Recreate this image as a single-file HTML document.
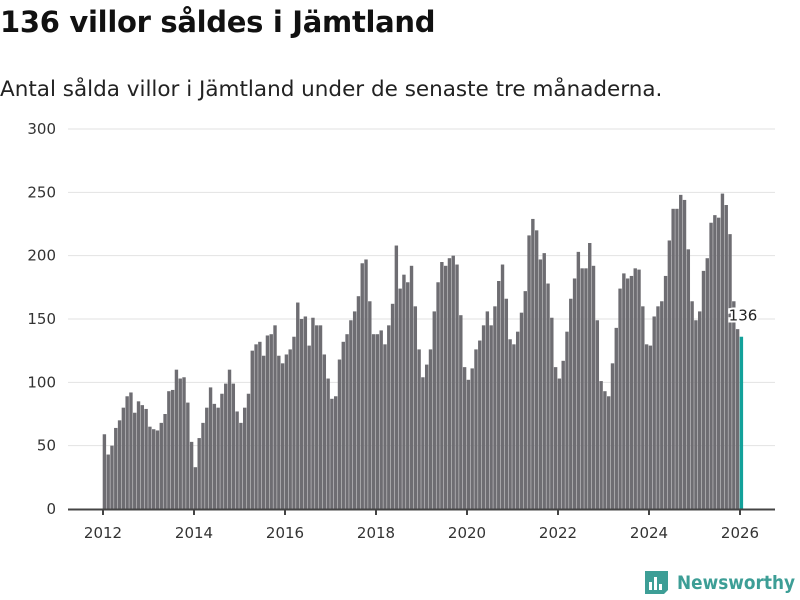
<!DOCTYPE html>
<html><head><meta charset="utf-8"><style>
body{margin:0;background:#fff;font-family:"Liberation Sans","DejaVu Sans",sans-serif;}
#wrap{position:relative;width:800px;height:600px;overflow:hidden}
h1{position:absolute;left:0;top:5px;margin:0;font-size:29px;font-weight:bold;color:#111;font-family:"DejaVu Sans","Liberation Sans",sans-serif;letter-spacing:-0.3px}
p.sub{position:absolute;left:0;top:77px;margin:0;font-size:21.5px;color:#222;font-family:"DejaVu Sans","Liberation Sans",sans-serif}
svg text{font-family:"DejaVu Sans","Liberation Sans",sans-serif}
</style></head><body>
<div id="wrap">
<h1>136 villor såldes i Jämtland</h1>
<p class="sub">Antal sålda villor i Jämtland under de senaste tre månaderna.</p>
<svg id="chart" width="800" height="600" style="position:absolute;left:0;top:0"></svg>
</div>
<script>
const startYear = 2012;
const values = [
59,43,50,64,70,80,89,92,76,85,82,79,
65,63,62,68,75,93,94,110,103,104,84,53,
33,56,68,80,96,83,80,91,99,110,99,77,
68,80,91,125,130,132,121,137,138,145,121,115,
122,126,136,163,150,152,129,151,145,145,122,103,
87,89,118,132,138,149,156,168,194,197,164,138,
138,141,130,145,162,208,174,185,179,192,160,126,
104,114,126,156,179,195,192,198,200,193,153,112,
102,111,126,133,145,156,145,160,180,193,166,134,
130,140,155,172,216,229,220,197,202,178,151,112,
103,117,140,166,182,203,190,190,210,192,149,101,
93,89,115,143,174,186,182,184,190,189,160,130,
129,152,160,164,184,212,237,237,248,244,205,164,
149,156,188,198,226,232,230,249,240,217,164,142,
136];
const yTicks = [0,50,100,150,200,250,300];
const xTicks = [2012,2014,2016,2018,2020,2022,2024,2026];

const NS="http://www.w3.org/2000/svg";
const svg=document.getElementById('chart');
const X0=103, PX_YEAR=45.5, Y0=509, PX_UNIT=380/300;
const xs=t=>X0+(t-startYear)*PX_YEAR;
const ys=v=>Y0-v*PX_UNIT;
function mk(tag,attrs){const e=document.createElementNS(NS,tag);for(const k in attrs)e.setAttribute(k,attrs[k]);svg.appendChild(e);return e;}
yTicks.forEach(v=>{
  const l=mk('line',{x1:68,x2:775,y1:ys(v),y2:ys(v),stroke:'#e2e2e2','stroke-width':1});
  
  
  const t=mk('text',{x:56,y:ys(v)+5,'text-anchor':'end','font-size':15,fill:'#333'});
  t.textContent=v;
  
  
});
values.forEach((v,i)=>{
  const last=i===values.length-1;
  const r=mk('rect',{x:xs(startYear+i/12)-0.3,y:ys(v),width:3.4,height:v*PX_UNIT,fill:last?'#13a19a':'#6e6d72'});
  
  
});
const ax=mk('line',{x1:68,x2:775,y1:Y0+0.5,y2:Y0+0.5,stroke:'#444','stroke-width':2});


xTicks.forEach(y=>{
  const tk=mk('line',{x1:xs(y),x2:xs(y),y1:Y0,y2:Y0+6,stroke:'#444','stroke-width':2});
  
  
  const t=mk('text',{x:xs(y),y:538,'text-anchor':'middle','font-size':15,fill:'#333'});
  t.textContent=y;
  
  
});
const lv=values[values.length-1];
const lbl=mk('text',{x:xs(startYear+(values.length-1)/12)+3,y:ys(lv)-16,'text-anchor':'middle','font-size':15,fill:'#222',stroke:'#fff','stroke-width':4,'paint-order':'stroke'});
lbl.textContent=lv;


// logo
const g=mk('g',{});


const ic=document.createElementNS(NS,'path');
ic.setAttribute('d','M645 571h23v19l-4 4h-19z');ic.setAttribute('fill','#3d9e96');g.appendChild(ic);
[[649,582,3,8],[654,577,3,13],[659,584,3,6]].forEach(a=>{const b=document.createElementNS(NS,'rect');b.setAttribute('x',a[0]);b.setAttribute('y',a[1]);b.setAttribute('width',a[2]);b.setAttribute('height',a[3]);b.setAttribute('fill','#fff');g.appendChild(b);});
const lt=document.createElementNS(NS,'text');
lt.setAttribute('x',677);lt.setAttribute('y',589);lt.setAttribute('font-size',19);lt.setAttribute('font-weight','bold');lt.setAttribute('fill','#3d9e96');
lt.setAttribute('textLength',118);lt.setAttribute('lengthAdjust','spacingAndGlyphs');
lt.textContent='Newsworthy';g.appendChild(lt);
</script>
</body></html>
